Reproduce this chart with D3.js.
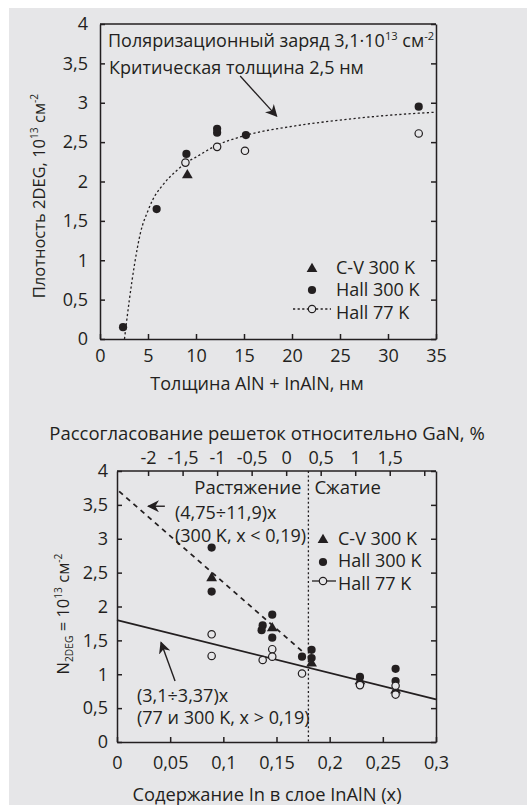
<!DOCTYPE html>
<html><head><meta charset="utf-8">
<script src="https://cdn.jsdelivr.net/npm/d3@7"></script>
<style>
body{margin:0;background:#fff;}
svg text{font-family:"Open Sans",sans-serif;fill:#231f20;}
</style></head><body>
<svg id="c" width="527" height="808"></svg>
<script>
// ---- Panel 1: 2DEG density vs. AlN + InAlN thickness ----
const thickTicks = [0, 5, 10, 15, 20, 25, 30, 35];
const densTicks = [0, 0.5, 1, 1.5, 2, 2.5, 3, 3.5, 4];
const cv300Thick = [[9.1, 2.08]];
const hall300Thick = [[2.4, 0.15], [5.9, 1.65], [9.0, 2.35], [12.2, 2.62], [12.2, 2.67], [15.2, 2.59], [33.2, 2.95]];
const hall77Thick = [[8.9, 2.24], [12.2, 2.44], [15.1, 2.39], [33.2, 2.61]];
const fitThick = [[2.55, 0], [3.05, 0.49], [3.6, 0.95], [4.2, 1.34], [5.0, 1.63], [5.5, 1.77], [6.5, 1.95], [8, 2.14], [9, 2.24], [10, 2.31], [12, 2.45], [15, 2.58], [20, 2.70], [25, 2.78], [30, 2.84], [35, 2.88]];

// ---- Panel 2: 2DEG density vs. In content ----
const inTicks = [0, 0.05, 0.1, 0.15, 0.2, 0.25, 0.3];
const nTicks = [0, 0.5, 1, 1.5, 2, 2.5, 3, 3.5, 4];
const mismatchTicks = [-2, -1.5, -1, -0.5, 0, 0.5, 1, 1.5, 2];
const mismatchLabels = ["-2", "-1,5", "-1", "-0,5", "0", "0,5", "1", "1,5", ""];
const cv300In = [[0.089, 2.42], [0.146, 1.68], [0.183, 1.16], [0.2285, 0.90], [0.262, 0.76]];
const hall300In = [[0.089, 2.87], [0.089, 2.22], [0.136, 1.65], [0.137, 1.72], [0.146, 1.88], [0.146, 1.54], [0.174, 1.26], [0.183, 1.36], [0.183, 1.24], [0.2285, 0.96], [0.262, 1.08], [0.262, 0.90]];
const hall77In = [[0.089, 1.59], [0.089, 1.27], [0.137, 1.21], [0.146, 1.37], [0.146, 1.26], [0.174, 1.01], [0.2285, 0.84], [0.262, 0.83], [0.262, 0.70]];
const fit300 = [[0.002, 3.70], [0.177, 1.30]];
const fit77 = [[0, 1.80], [0.3, 0.63]];
const strainBoundary = 0.18;

const INK = "#231f20";
const BG = "#e6e6e8";
const FS = 18;
const fmt = d => String(d).replace(".", ",");

const svg = d3.select("#c");
svg.append("rect").attr("x", 9).attr("y", 8).attr("width", 518).attr("height", 797).attr("fill", BG);

const defs = svg.append("defs");
defs.append("marker").attr("id", "ah").attr("viewBox", "0 0 10 10")
  .attr("refX", 9).attr("refY", 5).attr("markerWidth", 12).attr("markerHeight", 12)
  .attr("markerUnits", "userSpaceOnUse").attr("orient", "auto")
  .append("path").attr("d", "M0,0 L10,5 L0,10 L3,5 Z").attr("fill", INK);

function styleAxis(a) {
  a.selectAll("path,line").attr("stroke", INK).attr("stroke-width", 1.5);
  a.selectAll("text").attr("font-size", FS).attr("fill", INK).attr("font-family", "Open Sans");
}

function frameAxes(g, x, y, xt, yt, opts) {
  const [x0, x1] = x.range(), [y0, y1] = y.range();
  g.append("g").attr("transform", `translate(0,${y0})`)
    .call(d3.axisBottom(x).tickValues(xt).tickFormat(fmt).tickSizeInner(-5).tickSizeOuter(0).tickPadding(opts.xPad))
    .call(styleAxis);
  g.append("g").attr("transform", `translate(${x0},0)`)
    .call(d3.axisLeft(y).tickValues(yt).tickFormat(fmt).tickSizeInner(-5).tickSizeOuter(0).tickPadding(opts.yPad))
    .call(styleAxis);
  g.append("g").attr("transform", `translate(${x1},0)`)
    .call(d3.axisRight(y).tickValues(yt).tickFormat("").tickSizeInner(-5).tickSizeOuter(0))
    .call(styleAxis);
  g.append("line").attr("x1", x0).attr("x2", x1).attr("y1", y1).attr("y2", y1)
    .attr("stroke", INK).attr("stroke-width", 1.5);
}

const tri = d3.symbol().type(d3.symbolTriangle).size(50);

function markers(g, x, y, cv, h300, h77) {
  g.selectAll(null).data(h300).join("circle")
    .attr("cx", d => x(d[0])).attr("cy", d => y(d[1])).attr("r", 4.1).attr("fill", INK);
  g.selectAll(null).data(cv).join("path").attr("d", tri)
    .attr("transform", d => `translate(${x(d[0])},${y(d[1])})`).attr("fill", INK);
  g.selectAll(null).data(h77).join("circle")
    .attr("cx", d => x(d[0])).attr("cy", d => y(d[1])).attr("r", 3.7)
    .attr("fill", BG).attr("stroke", INK).attr("stroke-width", 1.2);
}

function richText(sel, parts) {
  parts.forEach(p => {
    const t = sel.append("tspan").text(p.t);
    if (p.small) t.attr("font-size", "0.62em");
    if (p.dy) t.attr("dy", p.dy);
  });
}
const unitParts = [{ t: "13", small: true, dy: -7 }, { t: " см", dy: 7 }, { t: "-2", small: true, dy: -7 }];

// ---------- Panel 1 ----------
{
  const x = d3.scaleLinear().domain([0, 35]).range([100, 436]);
  const y = d3.scaleLinear().domain([0, 4]).range([339, 24]);
  const g = svg.append("g");
  frameAxes(g, x, y, thickTicks, densTicks, { xPad: 10, yPad: 12 });

  g.append("path").datum(fitThick)
    .attr("d", d3.line().x(d => x(d[0])).y(d => y(d[1])).curve(d3.curveMonotoneX))
    .attr("fill", "none").attr("stroke", INK).attr("stroke-width", 1.3).attr("stroke-dasharray", "2.2,2.4");

  markers(g, x, y, cv300Thick, hall300Thick, hall77Thick);

  // annotation
  const a1 = g.append("text").attr("x", 108).attr("y", 47).attr("font-size", FS);
  richText(a1, [{ t: "Поляризационный заряд 3,1·10" }, ...unitParts]);
  g.append("text").attr("x", 109).attr("y", 74).attr("font-size", FS).text("Критическая толщина 2,5 нм");
  g.append("line").attr("x1", x(14.6)).attr("y1", y(3.34)).attr("x2", x(18.4)).attr("y2", y(2.83))
    .attr("stroke", INK).attr("stroke-width", 1.3).attr("marker-end", "url(#ah)");

  // legend
  const lx = 312, tx = 336;
  g.append("path").attr("d", tri).attr("transform", `translate(${lx},${269})`).attr("fill", INK);
  g.append("circle").attr("cx", lx).attr("cy", 290).attr("r", 4.1).attr("fill", INK);
  g.append("line").attr("x1", 293).attr("x2", 331).attr("y1", 309).attr("y2", 309)
    .attr("stroke", INK).attr("stroke-width", 1.3).attr("stroke-dasharray", "2.2,2.4");
  g.append("circle").attr("cx", lx).attr("cy", 309).attr("r", 3.7).attr("fill", BG).attr("stroke", INK).attr("stroke-width", 1.2);
  [["C-V 300 K", 268], ["Hall 300 K", 290], ["Hall 77 K", 313]].forEach(([t, yy]) =>
    g.append("text").attr("x", tx).attr("y", yy).attr("dy", "0.36em").attr("font-size", FS).text(t));

  // axis titles
  g.append("text").attr("x", 257).attr("y", 390).attr("text-anchor", "middle").attr("font-size", FS)
    .text("Толщина AlN + InAlN, нм");
  const yt = g.append("text").attr("transform", "translate(45,196) rotate(-90)").attr("text-anchor", "middle").attr("font-size", 16.5);
  richText(yt, [{ t: "Плотность 2DEG, 10" }, ...unitParts]);
}

// ---------- Panel 2 ----------
{
  const x = d3.scaleLinear().domain([0, 0.3]).range([117, 436]);
  const y = d3.scaleLinear().domain([0, 4]).range([742, 471]);
  // lattice mismatch relative to GaN, %, along the top edge
  const xm = d3.scaleLinear().domain([-2.45, 2.17]).range([117, 436]);
  const g = svg.append("g");
  frameAxes(g, x, y, inTicks, nTicks, { xPad: 14, yPad: 9 });

  g.append("g").attr("transform", `translate(0,${471})`)
    .call(d3.axisTop(xm).tickValues(mismatchTicks).tickFormat((d, i) => mismatchLabels[i])
      .tickSizeInner(-5).tickSizeOuter(0).tickPadding(7))
    .call(a => a.select(".domain").remove())
    .call(styleAxis);

  g.append("line").attr("x1", x(strainBoundary)).attr("x2", x(strainBoundary)).attr("y1", y(4)).attr("y2", y(0))
    .attr("stroke", INK).attr("stroke-width", 1.3).attr("stroke-dasharray", "2,2.4");

  const ln = d3.line().x(d => x(d[0])).y(d => y(d[1]));
  g.append("path").datum(fit300).attr("d", ln).attr("fill", "none").attr("stroke", INK)
    .attr("stroke-width", 1.8).attr("stroke-dasharray", "5,4.5");
  g.append("path").datum(fit77).attr("d", ln).attr("fill", "none").attr("stroke", INK).attr("stroke-width", 1.8);

  markers(g, x, y, cv300In, hall300In, hall77In);

  g.append("text").attr("x", x(strainBoundary) - 7).attr("y", 487).attr("dy", "0.36em").attr("text-anchor", "end").attr("font-size", 18.5).text("Растяжение");
  g.append("text").attr("x", x(strainBoundary) + 6).attr("y", 487).attr("dy", "0.36em").attr("font-size", 18.5).text("Сжатие");

  g.append("line").attr("x1", x(0.045)).attr("y1", y(3.48)).attr("x2", x(0.0293)).attr("y2", y(3.48))
    .attr("stroke", INK).attr("stroke-width", 1.4).attr("marker-end", "url(#ah)");
  g.append("text").attr("x", 175).attr("y", 513).attr("dy", "0.36em").attr("font-size", FS).text("(4,75÷11,9)x");
  g.append("text").attr("x", 175).attr("y", 536).attr("dy", "0.36em").attr("font-size", FS).text("(300 K, x < 0,19)");

  g.append("line").attr("x1", x(0.0546)).attr("y1", y(0.90)).attr("x2", x(0.0414)).attr("y2", y(1.47))
    .attr("stroke", INK).attr("stroke-width", 1.4).attr("marker-end", "url(#ah)");
  g.append("text").attr("x", 137).attr("y", 696).attr("dy", "0.36em").attr("font-size", FS).text("(3,1÷3,37)x");
  g.append("text").attr("x", 137).attr("y", 718).attr("dy", "0.36em").attr("font-size", FS).text("(77 и 300 K, x > 0,19)");

  // legend
  const lx = 323, tx = 338;
  g.append("path").attr("d", tri).attr("transform", `translate(${lx},${540})`).attr("fill", INK);
  g.append("circle").attr("cx", lx).attr("cy", 562).attr("r", 4.1).attr("fill", INK);
  g.append("line").attr("x1", 312).attr("x2", 336).attr("y1", 581).attr("y2", 581).attr("stroke", INK).attr("stroke-width", 1.3);
  g.append("circle").attr("cx", lx).attr("cy", 581).attr("r", 3.7).attr("fill", BG).attr("stroke", INK).attr("stroke-width", 1.2);
  [["C-V 300 K", 538.5], ["Hall 300 K", 561], ["Hall 77 K", 584]].forEach(([t, yy]) =>
    g.append("text").attr("x", tx).attr("y", yy).attr("dy", "0.36em").attr("font-size", FS).text(t));

  g.append("text").attr("x", 267).attr("y", 440).attr("text-anchor", "middle").attr("font-size", 18.5)
    .text("Рассогласование решеток относительно GaN, %");
  g.append("text").attr("x", 267).attr("y", 801).attr("text-anchor", "middle").attr("font-size", 18.3)
    .text("Содержание In в слое InAlN (x)");
  const yt = g.append("text").attr("transform", "translate(69,614) rotate(-90)").attr("text-anchor", "middle").attr("font-size", 16.5);
  richText(yt, [{ t: "N" }, { t: "2DEG", small: true, dy: 4 }, { t: " = 10", dy: -4 }, ...unitParts]);
}
</script>
</body></html>
